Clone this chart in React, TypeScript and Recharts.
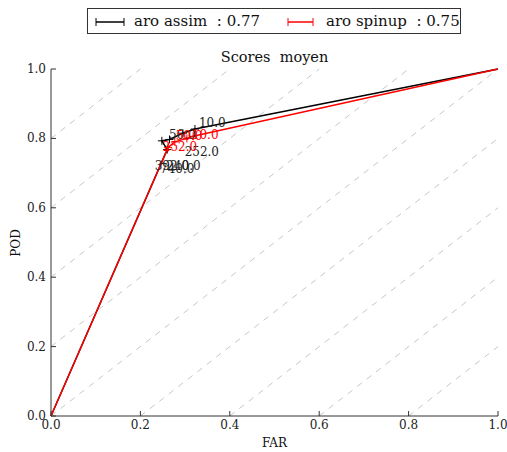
import { ScatterChart, Scatter, XAxis, YAxis, ReferenceLine } from 'recharts'

const ASSIM_FAR = [0, 0.26, 0.248, 0.265, 0.295, 0.322, 1]
const ASSIM_POD = [0, 0.768, 0.793, 0.797, 0.815, 0.827, 1]
const SPINUP_FAR = [0, 0.262, 0.277, 0.304, 0.318, 1]
const SPINUP_POD = [0, 0.774, 0.79, 0.8, 0.806, 1]

// threshold annotations (text anchored at bottom-left)
const ASSIM_LABELS = ['10.0', '50.0', '252.0', '392.0', '240.0', '740.0']
const ASSIM_LABEL_FAR = [0.331, 0.264, 0.299, 0.232, 0.258, 0.244]
const ASSIM_LABEL_POD = [0.833, 0.798, 0.749, 0.71, 0.71, 0.699]
const SPINUP_LABELS = ['10.0', '50.0', '252.0']
const SPINUP_LABEL_FAR = [0.315, 0.279, 0.25]
const SPINUP_LABEL_POD = [0.798, 0.795, 0.763]

const DIAG_OFFSETS = [-0.8, -0.6, -0.4, -0.2, 0, 0.2, 0.4, 0.6, 0.8]
const TICKS = [0, 0.2, 0.4, 0.6, 0.8, 1]

const FONT = '"DejaVu Serif", serif'
const AXIS = '#333'

const assim = ASSIM_FAR.map((far, i) => ({ far, pod: ASSIM_POD[i] }))
const spinup = SPINUP_FAR.map((far, i) => ({ far, pod: SPINUP_POD[i] }))
const assimLabels = ASSIM_LABELS.map((label, i) => ({ far: ASSIM_LABEL_FAR[i], pod: ASSIM_LABEL_POD[i], label }))
const spinupLabels = SPINUP_LABELS.map((label, i) => ({ far: SPINUP_LABEL_FAR[i], pod: SPINUP_LABEL_POD[i], label }))

// no marker on the (0,0) and (1,1) end points
const plus = (color: string) => (p: any) => {
  const { far, pod } = p.payload
  if ((far === 0 && pod === 0) || (far === 1 && pod === 1)) return <g />
  return (
    <path
      d={`M${p.cx - 4},${p.cy}H${p.cx + 4}M${p.cx},${p.cy - 4}V${p.cy + 4}`}
      stroke={color}
      strokeWidth={1}
      fill="none"
    />
  )
}

const textShape = (color: string) => (p: any) => (
  <text x={p.cx} y={p.cy} fontSize={12} fontFamily={FONT} fill={color}>
    {p.payload.label}
  </text>
)

const BottomTick = (p: any) => (
  <g>
    <line x1={p.x} x2={p.x} y1={p.y - 4} y2={p.y - 9} stroke={AXIS} />
    <text x={p.x} y={p.y} dy={9} textAnchor="middle" fontSize={12} fontFamily={FONT} fill="#222">
      {p.payload.value.toFixed(1)}
    </text>
  </g>
)

const LeftTick = (p: any) => (
  <g>
    <line x1={p.x + 5} x2={p.x + 10} y1={p.y} y2={p.y} stroke={AXIS} />
    <text x={p.x} y={p.y} dy={4} textAnchor="end" fontSize={12} fontFamily={FONT} fill="#222">
      {p.payload.value.toFixed(1)}
    </text>
  </g>
)

const TopTick = (p: any) => <line x1={p.x} x2={p.x} y1={p.y} y2={p.y + 5} stroke={AXIS} />
const RightTick = (p: any) => <line x1={p.x - 5} x2={p.x} y1={p.y} y2={p.y} stroke={AXIS} />

function LegendEntry({ color, text, lineLeft, textLeft, width }: any) {
  return (
    <>
      <svg style={{ position: 'absolute', left: lineLeft - 88, top: 8 }} width={width + 2} height={10}>
        <line x1={1} x2={width + 1} y1={5} y2={5} stroke={color} strokeWidth={1.5} />
        <line x1={1} x2={1} y1={1} y2={9} stroke={color} />
        <line x1={width + 1} x2={width + 1} y1={1} y2={9} stroke={color} />
      </svg>
      <span style={{ position: 'absolute', left: textLeft - 88, top: 3, whiteSpace: 'pre' }}>{text}</span>
    </>
  )
}

export default function App() {
  return (
    <div style={{ position: 'absolute', left: 0, top: 0, width: 507, height: 452, background: '#fff', fontFamily: FONT, color: '#111' }}>
      <ScatterChart width={507} height={452} margin={{ top: 69, right: 9, left: 0, bottom: 0 }}>
        <XAxis
          xAxisId="b"
          dataKey="far"
          type="number"
          domain={[0, 1]}
          ticks={TICKS}
          interval={0}
          height={36}
          tickSize={0}
          tickMargin={4}
          tickLine={false}
          axisLine={{ stroke: AXIS }}
          tick={<BottomTick />}
        />
        <XAxis
          xAxisId="t"
          orientation="top"
          dataKey="far"
          type="number"
          domain={[0, 1]}
          ticks={TICKS}
          interval={0}
          height={0}
          tickSize={0}
          tickMargin={0}
          tickLine={false}
          axisLine={{ stroke: AXIS }}
          tick={<TopTick />}
        />
        <YAxis
          yAxisId="l"
          dataKey="pod"
          type="number"
          domain={[0, 1]}
          ticks={TICKS}
          interval={0}
          width={51}
          tickSize={0}
          tickMargin={5}
          tickLine={false}
          axisLine={{ stroke: AXIS }}
          tick={<LeftTick />}
        />
        <YAxis
          yAxisId="r"
          orientation="right"
          dataKey="pod"
          type="number"
          domain={[0, 1]}
          ticks={TICKS}
          interval={0}
          width={0}
          tickSize={0}
          tickMargin={0}
          tickLine={false}
          axisLine={{ stroke: AXIS }}
          tick={<RightTick />}
        />
        {DIAG_OFFSETS.map((c) => (
          <ReferenceLine
            key={c}
            xAxisId="b"
            yAxisId="l"
            segment={c >= 0 ? [{ x: 0, y: c }, { x: 1 - c, y: 1 }] : [{ x: -c, y: 0 }, { x: 1, y: 1 + c }]}
            stroke="#c8c8c8"
            strokeDasharray="6 6"
            strokeWidth={1}
          />
        ))}
        <Scatter
          xAxisId="b"
          yAxisId="l"
          data={assim}
          line={{ stroke: '#000', strokeWidth: 1.5 }}
          lineType="joint"
          shape={plus('#000')}
          isAnimationActive={false}
        />
        <Scatter
          xAxisId="b"
          yAxisId="l"
          data={spinup}
          line={{ stroke: '#ff0000', strokeWidth: 1.5 }}
          lineType="joint"
          shape={plus('#ff0000')}
          isAnimationActive={false}
        />
        <Scatter xAxisId="b" yAxisId="l" data={assimLabels} shape={textShape('#222')} isAnimationActive={false} />
        <Scatter xAxisId="b" yAxisId="l" data={spinupLabels} shape={textShape('#ff0000')} isAnimationActive={false} />
      </ScatterChart>

      {/* title */}
      <div style={{ position: 'absolute', left: 51, width: 447, top: 50, textAlign: 'center', fontSize: 14.5, lineHeight: 1, whiteSpace: 'pre' }}>
        Scores  moyen
      </div>
      {/* axis labels */}
      <div style={{ position: 'absolute', left: 51, width: 447, top: 437, textAlign: 'center', fontSize: 12, lineHeight: 1 }}>FAR</div>
      <div style={{ position: 'absolute', left: 16, top: 243, transform: 'translate(-50%, -50%) rotate(-90deg)', fontSize: 12, lineHeight: 1 }}>
        POD
      </div>
      {/* legend */}
      <div style={{ position: 'absolute', left: 87, top: 8, width: 372, height: 24, border: `1px solid ${AXIS}`, fontSize: 15, lineHeight: 1.2 }}>
        <LegendEntry color="#000" text="aro assim  : 0.77" lineLeft={95} textLeft={134} width={28} />
        <LegendEntry color="#ff0000" text="aro spinup  : 0.75" lineLeft={287} textLeft={326} width={25} />
      </div>
    </div>
  )
}
